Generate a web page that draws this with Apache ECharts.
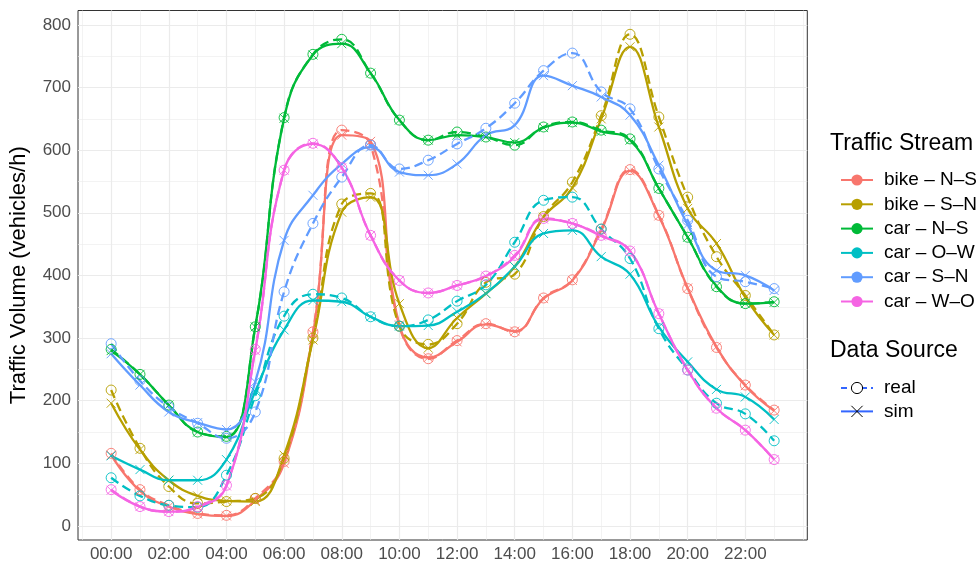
<!DOCTYPE html>
<html><head><meta charset="utf-8">
<script src="https://cdn.jsdelivr.net/npm/echarts@6/dist/echarts.min.js"></script>
<style>html,body{margin:0;padding:0;background:#fff}#c{width:978px;height:565px}</style>
</head><body><div id="c"></div>
<script>
// ---------- data ----------
const hours = [0,1,2,3,4,5,6,7,8,9,10,11,12,13,14,15,16,17,18,19,20,21,22,23];
const tickHours = [0,2,4,6,8,10,12,14,16,18,20,22];
const yTicks = [0,100,200,300,400,500,600,700,800];
const streams = ['bike – N–S','bike – S–N','car – N–S','car – O–W','car – S–N','car – W–O'];
const sources = ['real','sim'];

const bikeNS_real = [116,58,33,20,17,44,103,310,632,609,319,267,296,323,310,364,393,474,569,496,379,285,225,185];
const bikeNS_sim  = [113,56,31,19,16,41,100,306,624,614,321,269,294,322,311,363,392,472,567,495,380,286,224,184];
const bikeSN_real = [217,124,63,36,39,44,108,300,514,531,319,290,323,389,402,494,549,655,785,653,525,430,368,305];
const bikeSN_sim  = [196,122,73,48,40,39,113,297,501,525,355,284,332,371,414,493,540,650,765,637,507,451,365,305];
const carNS_real  = [282,242,193,150,143,318,652,753,777,723,648,616,629,621,608,637,645,632,618,539,461,382,355,358];
const carNS_sim   = [280,242,193,150,142,318,651,752,770,723,648,616,624,621,612,636,644,630,616,539,461,383,355,357];
const carOW_real  = [77,48,33,30,81,208,335,370,364,334,319,329,359,385,453,520,525,474,427,315,249,196,179,136];
const carOW_sim   = [112,90,73,73,106,215,313,360,358,334,319,320,342,371,414,467,472,430,402,318,262,218,206,170];
const carSN_real  = [291,232,190,164,140,182,374,483,557,608,570,584,610,635,675,727,755,693,666,570,488,398,390,379];
const carSN_sim   = [275,225,182,165,154,230,456,528,578,605,565,560,578,624,640,719,703,685,656,576,481,408,400,376];
const carWO_real  = [58,31,23,31,65,282,568,611,572,464,392,372,384,399,432,491,483,464,439,339,249,188,153,106];
const carWO_sim   = [57,31,23,30,64,280,568,610,572,464,392,372,384,399,430,490,483,463,439,339,249,188,153,106];

const realData = [bikeNS_real, bikeSN_real, carNS_real, carOW_real, carSN_real, carWO_real];
const simData  = [bikeNS_sim,  bikeSN_sim,  carNS_sim,  carOW_sim,  carSN_sim,  carWO_sim];

// ---------- style ----------
const colors = ['#F8766D','#B79F00','#00BA38','#00BFC4','#619CFF','#F564E3'];
const srcColor = '#3366FF';
const FONT = '"Liberation Sans", Arial, Helvetica, sans-serif';
const xPath = 'path://M0,0L10,10M10,0L0,10';
const pad = v => (v < 10 ? '0' : '') + v + ':00';

// grid lines (ggplot theme_bw style) drawn through axis scales
const gridLines = [];
for (let v = -1; v <= 24; v++) {
  const major = tickHours.indexOf(v) >= 0;
  gridLines.push({ xAxis: v, lineStyle: { color: '#EBEBEB', width: major ? 1.2 : 0.6, type: 'solid' } });
}
for (let v = 0; v <= 800; v += 50) {
  const major = yTicks.indexOf(v) >= 0;
  gridLines.push({ yAxis: v, lineStyle: { color: '#EBEBEB', width: major ? 1.2 : 0.6, type: 'solid' } });
}

const series = [];
series.push({
  type: 'line', data: [], silent: true, z: 1,
  markLine: { silent: true, z: 1, symbol: ['none','none'], label: { show: false }, animation: false, data: gridLines }
});

streams.forEach((s, i) => {
  const c = colors[i];
  series.push({
    name: s + ' real', type: 'line', z: 3, smooth: 0.45, showAllSymbol: true,
    data: hours.map((h, j) => [h, realData[i][j]]),
    symbol: 'circle', symbolSize: 10,
    lineStyle: { color: c, width: 2.3, type: [9, 5] },
    itemStyle: { color: 'rgba(0,0,0,0)', borderColor: c, borderWidth: 0.9 },
    emphasis: { disabled: true }
  });
  series.push({
    name: s + ' sim', type: 'line', z: 3, smooth: 0.45, showAllSymbol: true,
    data: hours.map((h, j) => [h, simData[i][j]]),
    symbol: xPath, symbolSize: 9,
    lineStyle: { color: c, width: 2.3, type: 'solid' },
    itemStyle: { color: 'rgba(0,0,0,0)', borderColor: c, borderWidth: 0.9 },
    emphasis: { disabled: true }
  });
});

// legend entries
streams.forEach((s, i) => {
  series.push({ name: s, type: 'line', data: [], symbol: 'circle',
    itemStyle: { color: colors[i] }, lineStyle: { color: colors[i], width: 2.5 } });
});
series.push({ name: 'real', type: 'line', data: [], symbol: 'circle',
  itemStyle: { color: '#fff', borderColor: '#000', borderWidth: 1 },
  lineStyle: { color: srcColor, width: 2.5, type: [6, 4] } });
series.push({ name: 'sim', type: 'line', data: [], symbol: xPath,
  itemStyle: { color: 'rgba(0,0,0,0)', borderColor: '#000', borderWidth: 1 },
  lineStyle: { color: srcColor, width: 2.5, type: 'solid' } });

const legendCommon = {
  orient: 'vertical', left: 835, itemWidth: 32, itemHeight: 14, selectedMode: false,
  textStyle: { fontSize: 19, color: '#000', fontFamily: FONT, lineHeight: 20, padding: [0, 0, 0, 6] }
};

const option = {
  animation: false,
  backgroundColor: '#fff',
  textStyle: { fontFamily: FONT },
  grid: { left: 77.5, right: 170.7, top: 10.5, bottom: 25, show: true, borderColor: '#333', borderWidth: 1, backgroundColor: '#fff', containLabel: false },
  xAxis: {
    type: 'value', min: -1.15, max: 24.15,
    axisLine: { show: false },
    axisTick: { show: true, customValues: tickHours, length: 4, lineStyle: { color: '#333', width: 1 } },
    axisLabel: { customValues: tickHours, formatter: v => pad(v), color: '#4D4D4D', fontSize: 17, margin: 6, fontFamily: FONT },
    splitLine: { show: false }
  },
  yAxis: {
    type: 'value', min: -22.4, max: 823,
    name: 'Traffic Volume (vehicles/h)', nameLocation: 'middle', nameGap: 48,
    nameTextStyle: { fontSize: 22, color: '#000', fontFamily: FONT },
    axisLine: { show: false },
    axisTick: { show: true, customValues: yTicks, length: 4, lineStyle: { color: '#333', width: 1 } },
    axisLabel: { customValues: yTicks, color: '#4D4D4D', fontSize: 17, margin: 7, fontFamily: FONT },
    splitLine: { show: false }
  },
  legend: [
    Object.assign({}, legendCommon, { data: streams, top: 165, itemGap: 4.3 }),
    Object.assign({}, legendCommon, { data: sources, top: 373, itemGap: 3.4, itemStyle: { borderWidth: 1 } })
  ],
  graphic: [
    { type: 'text', left: 830, top: 132, style: { text: 'Traffic Stream', fontSize: 23, fill: '#000', font: '23px ' + FONT } },
    { type: 'text', left: 830, top: 339, style: { text: 'Data Source', fontSize: 23, fill: '#000', font: '23px ' + FONT } }
  ],
  series: series
};

const chart = echarts.init(document.getElementById('c'), null, { renderer: 'canvas' });
chart.setOption(option);
</script></body></html>
